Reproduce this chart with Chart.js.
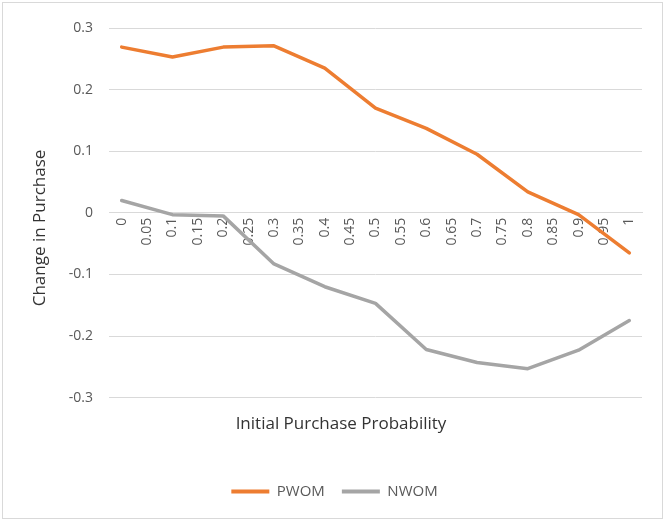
<!DOCTYPE html>
<html>
<head>
<meta charset="utf-8">
<script src="https://cdn.jsdelivr.net/npm/chart.js@4.4.1/dist/chart.umd.min.js"></script>
<style>
  html, body { margin: 0; padding: 0; background: #fff; }
  #wrap { position: relative; width: 665px; height: 521px; }
  #frame { position: absolute; left: 2px; top: 2px; width: 661px; height: 517px;
           box-sizing: border-box; border: 1px solid #d9d9d9; pointer-events: none; }
</style>
</head>
<body>
<div id="wrap">
  <canvas id="chart" width="665" height="521"></canvas>
  <div id="frame"></div>
</div>
<script>
// ── Data ─────────────────────────────────────────────────────────────────────
// x categories run 0..1 in 0.05 steps; the series only have values every 0.1
const labels = ['0','0.05','0.1','0.15','0.2','0.25','0.3','0.35','0.4','0.45','0.5',
                '0.55','0.6','0.65','0.7','0.75','0.8','0.85','0.9','0.95','1'];
const pwom = [0.269, null, 0.253, null, 0.269, null, 0.271, null, 0.235, null, 0.170,
              null, 0.137, null, 0.095, null, 0.034, null, -0.003, null, -0.065];
const nwom = [0.020, null, -0.003, null, -0.005, null, -0.083, null, -0.120, null, -0.147,
              null, -0.222, null, -0.243, null, -0.253, null, -0.223, null, -0.175];
const yTicks = { min: -0.3, max: 0.3, step: 0.1 };
const yTitle = 'Change in Purchase';
const xTitle = 'Initial Purchase Probability';

const FONT = '"Open Sans", sans-serif';
const GREY = '#595959';
const DARK = '#333333';
const PAD_LEFT = 27;    // centres the legend the way Excel does
const PLOT_LEFT = 109;  // left edge of the plot area

// Excel centres the axis titles a little off the plot middle:
// the value-axis title is drawn by hand, the category title block is nudged.
const titlesPlugin = {
  id: 'excelTitles',
  afterLayout(chart) {
    const tb = chart.titleBlock;
    if (tb) tb.left += 13;
  },
  afterDraw(chart) {
    const { ctx } = chart;
    ctx.save();
    ctx.translate(40, 228);
    ctx.rotate(-Math.PI / 2);
    ctx.font = `17px ${FONT}`;
    ctx.fillStyle = DARK;
    ctx.textAlign = 'center';
    ctx.textBaseline = 'middle';
    ctx.fillText(yTitle, 0, 0);
    ctx.restore();
  }
};

const series = (label, data, color) => ({
  label, data,
  borderColor: color, backgroundColor: color,
  borderWidth: 3.5,
  pointBorderColor: color, pointBackgroundColor: color, pointBorderWidth: 4
});

new Chart(document.getElementById('chart'), {
  type: 'line',
  data: {
    labels,
    datasets: [
      series('PWOM', pwom, '#ED7D31'),
      series('NWOM', nwom, '#A5A5A5')
    ]
  },
  options: {
    responsive: false,
    animation: false,
    spanGaps: true,
    layout: { padding: { top: 28, right: 23, bottom: 12, left: PAD_LEFT } },
    elements: {
      line: { tension: 0, borderJoinStyle: 'round', borderCapStyle: 'round' },
      point: { radius: 0, hoverRadius: 0 }
    },
    scales: {
      x: {
        type: 'category',
        position: { y: 0 },
        offset: true,
        grid: { display: false, drawTicks: false },
        border: { display: true, color: '#d9d9d9', width: 1 },
        ticks: {
          autoSkip: false, minRotation: 90, maxRotation: 90, padding: 5,
          color: GREY, font: { family: FONT, size: 14 }
        }
      },
      y: {
        min: yTicks.min, max: yTicks.max,
        afterFit: s => { s.width = PLOT_LEFT - PAD_LEFT; },
        grid: { color: '#d9d9d9', drawTicks: false },
        border: { display: false },
        ticks: {
          stepSize: yTicks.step, padding: 16, color: GREY,
          font: { family: FONT, size: 14 },
          callback: v => Math.round(v * 10) / 10
        }
      }
    },
    plugins: {
      title: {
        display: true, position: 'bottom', weight: 500,
        text: xTitle, color: DARK,
        font: { family: FONT, size: 17, weight: 'normal' },
        padding: { top: 16, bottom: 33 }
      },
      legend: {
        position: 'bottom',
        labels: {
          usePointStyle: true, pointStyle: 'line', pointStyleWidth: 38,
          color: GREY, font: { family: FONT, size: 15 }, padding: 17
        }
      },
      tooltip: { enabled: false }
    }
  },
  plugins: [titlesPlugin]
});
</script>
</body>
</html>
